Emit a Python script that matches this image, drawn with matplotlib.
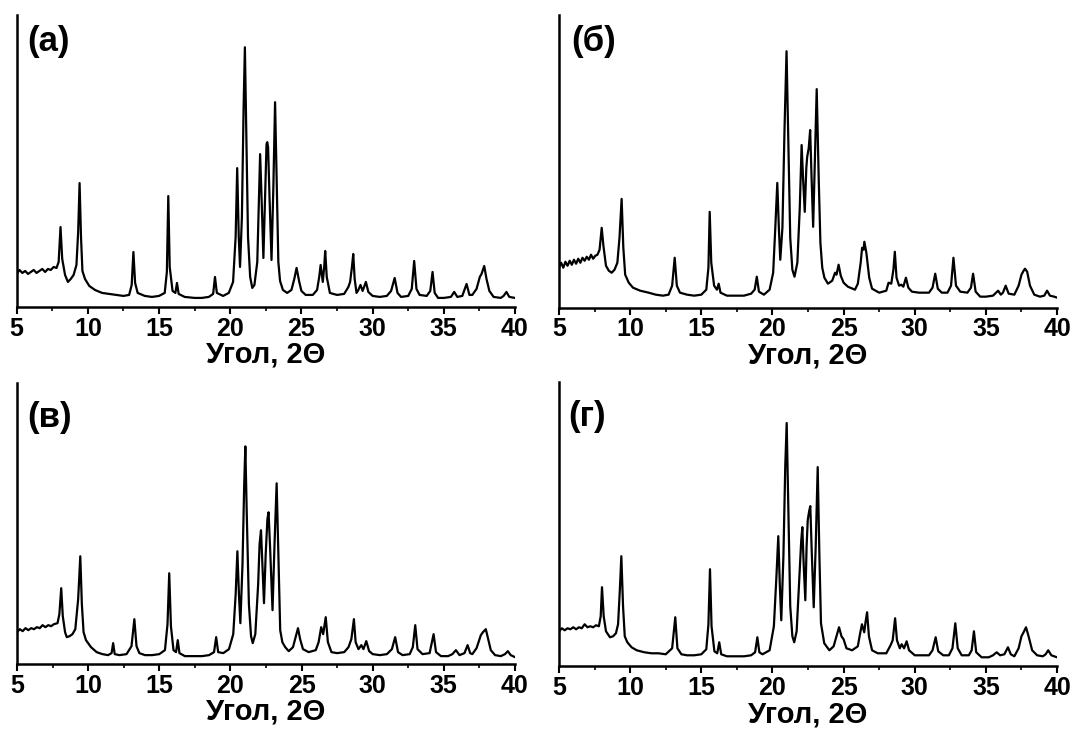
import matplotlib
matplotlib.use("Agg")
import matplotlib.pyplot as plt
from matplotlib.ticker import MultipleLocator

plt.rcParams['font.family'] = ['Liberation Sans', 'DejaVu Sans']
plt.rcParams['font.weight'] = 'bold'

# diffractogram vertices: (2theta, intensity, arb. units)
pattern_a = [
    (5.0, 33), (5.2, 37), (5.4, 34), (5.6, 36), (5.8, 33), (6.0, 35), (6.2, 37), (6.4, 34), (6.6, 36),
    (6.8, 38), (7.0, 35), (7.2, 38), (7.4, 37), (7.6, 40), (7.8, 39), (7.95, 45), (8.08, 80), (8.2, 48),
    (8.4, 32), (8.6, 25), (8.8, 28), (9.0, 32), (9.2, 42), (9.32, 75), (9.42, 124), (9.52, 70), (9.62, 36),
    (9.8, 28), (10.1, 21), (10.5, 17), (11.0, 14), (11.5, 13), (12.0, 12), (12.5, 11), (12.9, 12),
    (13.08, 22), (13.2, 55), (13.32, 24), (13.5, 14), (14.0, 11), (14.5, 10), (15.0, 11), (15.4, 14),
    (15.55, 35), (15.65, 111), (15.75, 40), (15.95, 16), (16.15, 14), (16.26, 24), (16.38, 13), (16.8, 10),
    (17.5, 9), (18.0, 9), (18.5, 10), (18.8, 13), (18.93, 30), (19.06, 14), (19.5, 11), (19.9, 14),
    (20.2, 25), (20.38, 70), (20.49, 139), (20.6, 70), (20.69, 40), (20.82, 90), (20.94, 200), (21.03, 260),
    (21.12, 180), (21.25, 70), (21.4, 30), (21.55, 19), (21.7, 22), (21.9, 45), (22.02, 110), (22.1, 153),
    (22.2, 110), (22.33, 49), (22.45, 110), (22.55, 163), (22.6, 165), (22.66, 160), (22.76, 110),
    (22.9, 47), (23.03, 120), (23.15, 205), (23.27, 120), (23.38, 45), (23.5, 26), (23.7, 17), (24.0, 14),
    (24.3, 17), (24.5, 28), (24.66, 39), (24.85, 25), (25.0, 16), (25.3, 12), (25.8, 12), (26.1, 17),
    (26.25, 30), (26.35, 42), (26.5, 25), (26.6, 40), (26.67, 56), (26.78, 30), (27.0, 14), (27.5, 12),
    (28.0, 13), (28.3, 20), (28.42, 25), (28.55, 40), (28.64, 53), (28.74, 28), (28.87, 14), (29.0, 17),
    (29.15, 22), (29.3, 16), (29.53, 25), (29.7, 15), (30.0, 11), (30.5, 10), (31.0, 11), (31.3, 16),
    (31.55, 29), (31.75, 14), (32.0, 10), (32.5, 11), (32.75, 18), (32.92, 46), (33.08, 18), (33.3, 12),
    (33.8, 11), (34.05, 16), (34.21, 35), (34.36, 14), (34.6, 9), (35.0, 9), (35.5, 10), (35.73, 15),
    (35.95, 10), (36.3, 11), (36.6, 23), (36.8, 12), (37.0, 12), (37.3, 18), (37.53, 30), (37.65, 33),
    (37.84, 41), (38.0, 28), (38.2, 16), (38.5, 10), (39.0, 9), (39.2, 11), (39.4, 15), (39.6, 10), (40.0, 9),
]

pattern_b = [
    (5.0, 40), (5.15, 45), (5.3, 40), (5.45, 46), (5.6, 42), (5.75, 47), (5.9, 43), (6.05, 48), (6.2, 44),
    (6.35, 49), (6.5, 45), (6.65, 50), (6.8, 47), (6.95, 51), (7.1, 48), (7.25, 53), (7.4, 49), (7.55, 52),
    (7.7, 53), (7.85, 58), (8.0, 80), (8.12, 62), (8.3, 42), (8.5, 37), (8.7, 35), (8.9, 38), (9.1, 45),
    (9.25, 70), (9.4, 109), (9.52, 60), (9.65, 33), (9.9, 25), (10.2, 20), (10.7, 17), (11.3, 15),
    (11.8, 13), (12.3, 12), (12.7, 13), (12.95, 22), (13.13, 50), (13.28, 22), (13.5, 15), (14.0, 13),
    (14.5, 12), (15.0, 13), (15.35, 18), (15.5, 40), (15.59, 96), (15.7, 45), (15.9, 22), (16.1, 18),
    (16.22, 24), (16.35, 15), (16.8, 12), (17.5, 12), (18.0, 12), (18.5, 14), (18.75, 18), (18.9, 31),
    (19.05, 16), (19.4, 13), (19.8, 18), (20.05, 35), (20.2, 80), (20.34, 125), (20.45, 80), (20.55, 48),
    (20.7, 80), (20.85, 180), (20.99, 257), (21.1, 180), (21.25, 70), (21.4, 38), (21.55, 31), (21.75, 45),
    (21.92, 100), (22.05, 163), (22.15, 130), (22.27, 96), (22.38, 140), (22.44, 151), (22.55, 160),
    (22.65, 178), (22.75, 130), (22.86, 81), (22.97, 140), (23.11, 219), (23.25, 130), (23.37, 65),
    (23.5, 40), (23.65, 30), (23.9, 24), (24.2, 27), (24.4, 35), (24.5, 33), (24.65, 43), (24.8, 32),
    (25.0, 25), (25.3, 21), (25.8, 18), (26.0, 24), (26.2, 45), (26.3, 60), (26.4, 58), (26.46, 66),
    (26.6, 55), (26.8, 30), (27.0, 19), (27.5, 15), (28.0, 17), (28.16, 25), (28.35, 24), (28.5, 38),
    (28.6, 56), (28.72, 30), (28.9, 22), (29.05, 23), (29.2, 21), (29.38, 30), (29.55, 20), (29.8, 16),
    (30.3, 15), (31.0, 15), (31.25, 20), (31.44, 34), (31.62, 19), (31.9, 15), (32.3, 15), (32.55, 22),
    (32.72, 50), (32.9, 22), (33.2, 16), (33.7, 15), (33.95, 20), (34.1, 34), (34.28, 16), (34.6, 11),
    (35.0, 11), (35.5, 12), (35.86, 17), (36.05, 13), (36.2, 15), (36.39, 22), (36.6, 14), (37.0, 13),
    (37.3, 22), (37.5, 33), (37.65, 37), (37.75, 39), (37.9, 36), (38.1, 22), (38.4, 13), (38.8, 11),
    (39.1, 12), (39.3, 17), (39.5, 12), (39.8, 11), (40.0, 10),
]

pattern_c = [
    (5.0, 32), (5.2, 35), (5.4, 33), (5.6, 36), (5.8, 34), (6.0, 36), (6.2, 35), (6.4, 37), (6.6, 36),
    (6.8, 39), (7.0, 37), (7.2, 39), (7.4, 38), (7.6, 40), (7.85, 41), (7.98, 50), (8.11, 76), (8.22, 48),
    (8.38, 32), (8.5, 27), (8.7, 28), (8.9, 30), (9.1, 35), (9.3, 65), (9.45, 108), (9.56, 60), (9.68, 32),
    (9.85, 24), (10.2, 17), (10.6, 12), (11.0, 10), (11.4, 9), (11.65, 11), (11.76, 21), (11.87, 10),
    (12.2, 9), (12.7, 10), (13.05, 18), (13.25, 45), (13.4, 18), (13.6, 11), (14.0, 9), (14.5, 9),
    (15.0, 10), (15.4, 14), (15.58, 40), (15.7, 91), (15.82, 38), (16.0, 14), (16.18, 12), (16.3, 24),
    (16.42, 11), (16.8, 8), (17.5, 8), (18.0, 8), (18.5, 9), (18.85, 12), (19.0, 27), (19.14, 12),
    (19.5, 11), (19.9, 15), (20.2, 30), (20.37, 70), (20.49, 113), (20.6, 70), (20.7, 41), (20.85, 100),
    (20.97, 180), (21.05, 218), (21.15, 150), (21.3, 60), (21.45, 28), (21.57, 21), (21.75, 30),
    (21.95, 80), (22.05, 120), (22.15, 134), (22.25, 100), (22.36, 61), (22.48, 110), (22.6, 145),
    (22.68, 152), (22.78, 120), (22.96, 54), (23.1, 120), (23.25, 181), (23.37, 110), (23.5, 34),
    (23.65, 22), (23.85, 17), (24.1, 13), (24.4, 17), (24.6, 28), (24.75, 36), (24.9, 25), (25.1, 15),
    (25.5, 12), (26.0, 14), (26.2, 22), (26.38, 37), (26.52, 30), (26.7, 47), (26.85, 22), (27.1, 12),
    (27.5, 11), (28.0, 12), (28.3, 17), (28.5, 25), (28.68, 45), (28.8, 22), (29.0, 15), (29.2, 19),
    (29.35, 15), (29.55, 23), (29.75, 13), (30.0, 10), (30.5, 9), (31.0, 10), (31.35, 15), (31.58, 27),
    (31.78, 12), (32.1, 9), (32.6, 10), (32.82, 17), (32.99, 39), (33.15, 15), (33.5, 10), (34.0, 11),
    (34.28, 30), (34.45, 12), (34.8, 8), (35.3, 8), (35.6, 10), (35.85, 14), (36.1, 9), (36.45, 11),
    (36.67, 19), (36.85, 11), (37.0, 10), (37.3, 16), (37.6, 29), (37.75, 32), (37.95, 35), (38.1, 26),
    (38.3, 14), (38.6, 9), (39.0, 8), (39.3, 10), (39.5, 13), (39.7, 9), (40.0, 7),
]

pattern_d = [
    (5.0, 35), (5.2, 38), (5.4, 36), (5.6, 38), (5.8, 37), (6.0, 39), (6.2, 37), (6.4, 39), (6.6, 38),
    (6.8, 42), (7.0, 39), (7.2, 40), (7.4, 39), (7.6, 41), (7.8, 40), (7.93, 50), (8.02, 79), (8.14, 50),
    (8.3, 35), (8.58, 29), (8.8, 30), (9.0, 33), (9.15, 42), (9.27, 75), (9.38, 110), (9.5, 60), (9.62, 30),
    (9.8, 24), (10.1, 19), (10.46, 16), (11.0, 14), (11.5, 13), (12.0, 13), (12.5, 12), (12.95, 18),
    (13.17, 49), (13.32, 18), (13.6, 12), (14.0, 11), (14.5, 11), (15.0, 12), (15.35, 17), (15.5, 42),
    (15.61, 97), (15.72, 40), (15.92, 15), (16.12, 13), (16.26, 24), (16.4, 12), (16.8, 10), (17.5, 10),
    (18.0, 10), (18.5, 11), (18.78, 14), (18.94, 29), (19.08, 14), (19.3, 12), (19.8, 16), (20.1, 40),
    (20.28, 90), (20.41, 130), (20.52, 80), (20.62, 46), (20.77, 110), (20.9, 200), (21.0, 243),
    (21.1, 170), (21.25, 60), (21.4, 30), (21.53, 24), (21.7, 35), (21.9, 90), (22.02, 125), (22.1, 139),
    (22.2, 100), (22.31, 66), (22.4, 120), (22.48, 146), (22.58, 155), (22.66, 160), (22.76, 115),
    (22.9, 59), (23.04, 120), (23.18, 199), (23.3, 110), (23.41, 43), (23.64, 23), (24.0, 16), (24.3, 20),
    (24.5, 30), (24.68, 39), (24.85, 30), (25.0, 27), (25.2, 18), (25.6, 16), (26.0, 20), (26.15, 32),
    (26.29, 42), (26.45, 34), (26.55, 45), (26.65, 54), (26.78, 30), (27.0, 16), (27.4, 13), (28.0, 13),
    (28.3, 21), (28.45, 26), (28.62, 48), (28.75, 26), (28.95, 18), (29.08, 22), (29.25, 18), (29.43, 25),
    (29.6, 16), (30.0, 11), (30.5, 11), (31.0, 11), (31.25, 16), (31.47, 29), (31.65, 15), (32.0, 11),
    (32.4, 11), (32.65, 18), (32.85, 43), (33.02, 18), (33.3, 11), (33.8, 11), (34.0, 16), (34.16, 35),
    (34.32, 14), (34.7, 9), (35.2, 9), (35.5, 11), (35.76, 14), (36.0, 11), (36.3, 12), (36.55, 19),
    (36.75, 12), (37.0, 10), (37.3, 18), (37.5, 30), (37.65, 34), (37.82, 39), (38.0, 30), (38.25, 16),
    (38.6, 11), (39.0, 10), (39.2, 12), (39.38, 16), (39.6, 11), (40.0, 9),
]

panel_labels = ['(а)', '(б)', '(в)', '(г)']
xlabel = 'Угол, 2Θ'
x_ticks = [5, 10, 15, 20, 25, 30, 35, 40]

# [left, bottom, width, height] in figure fraction, and top of intensity axis
panels = [
    (pattern_a, [0.0155, 0.579, 0.464, 0.400], 292, (0.022, 0.968)),
    (pattern_b, [0.5205, 0.578, 0.4637, 0.401], 293, (0.024, 0.968)),
    (pattern_c, [0.0158, 0.089, 0.4637, 0.385], 281, (0.021, 0.938)),
    (pattern_d, [0.5205, 0.086, 0.4637, 0.390], 284, (0.018, 0.938)),
]

fig = plt.figure(figsize=(10.74, 7.29), dpi=100)

for (pat, rect, ytop, lpos), lab in zip(panels, panel_labels):
    ax = fig.add_axes(rect)
    xs = [p[0] for p in pat]
    ys = [p[1] for p in pat]
    ax.plot(xs, ys, color='black', lw=1.6)
    ax.set_xlim(5, 40)
    ax.set_ylim(0, ytop)
    ax.spines['top'].set_visible(False)
    ax.spines['right'].set_visible(False)
    ax.spines['left'].set_linewidth(1.8)
    ax.spines['bottom'].set_linewidth(1.8)
    ax.set_yticks([])
    ax.set_xticks(x_ticks)
    ax.xaxis.set_minor_locator(MultipleLocator(2.5))
    ax.tick_params(axis='x', which='major', direction='out', length=5, width=1.5,
                   labelsize=18, pad=2)
    ax.tick_params(axis='x', which='minor', direction='out', length=3, width=1.2)
    for t in ax.get_xticklabels():
        t.set_fontweight('bold')
    ax.set_xlabel(xlabel, fontsize=21, fontweight='bold', labelpad=0)
    ax.text(lpos[0], lpos[1], lab, transform=ax.transAxes, fontsize=25,
            fontweight='bold', va='top', ha='left')

fig.savefig('out.png', dpi=100)
